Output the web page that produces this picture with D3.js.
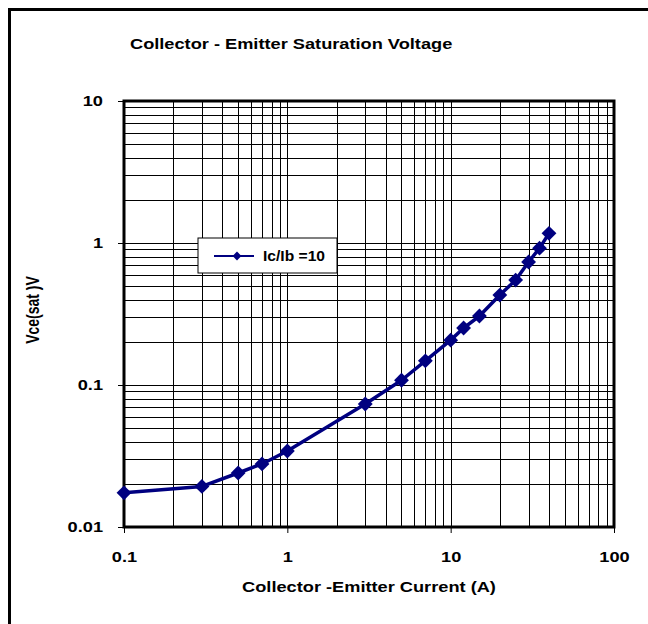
<!DOCTYPE html>
<html>
<head>
<meta charset="utf-8">
<script src="https://cdn.jsdelivr.net/npm/d3@7"></script>
<style>
  body { margin: 0; background: #fff; }
  text { font-family: "Liberation Sans", Arial, sans-serif; font-weight: bold; fill: #000; }
</style>
</head>
<body>
<script>
// Ic (A) and Vce(sat) (V)
const current = [0.1, 0.3, 0.5, 0.7, 1, 3, 5, 7, 10, 12, 15, 20, 25, 30, 35, 40];
const vceSat = [0.0174, 0.0193, 0.024, 0.0278, 0.0343, 0.0735, 0.108, 0.148, 0.207, 0.252, 0.306, 0.43, 0.548, 0.735, 0.92, 1.17];
const xTicks = [0.1, 1, 10, 100];
const yTicks = [0.01, 0.1, 1, 10];
const seriesName = "Ic/Ib =10";

const width = 648, height = 624;
const margin = {top: 101, right: 34, bottom: 97, left: 124};
const color = "#000080";
const stretch = 1.3; // the original text is drawn wide

const svg = d3.select("body").append("svg")
    .attr("width", width)
    .attr("height", height);

// widen every label the way the source picture does
const widen = sel => sel.each(function() {
  this.setAttribute("textLength", this.getComputedTextLength() * stretch);
  this.setAttribute("lengthAdjust", "spacingAndGlyphs");
});

// outer frame (runs off the right and bottom edges)
svg.append("rect")
    .attr("x", 9.5).attr("y", 9.5)
    .attr("width", width + 20).attr("height", height + 20)
    .attr("fill", "none").attr("stroke", "#000").attr("stroke-width", 3);

const x = d3.scaleLog()
    .domain([0.1, 100])
    .range([margin.left, width - margin.right]);

const y = d3.scaleLog()
    .domain([0.01, 10])
    .range([height - margin.bottom, margin.top]);

// minor + major grid
const minor = (lo, hi) => {
  const out = [];
  for (let p = Math.log10(lo); p < Math.log10(hi); p++)
    for (let k = 1; k < 10; k++) out.push(k * Math.pow(10, p));
  return out.slice(1);
};

const grid = svg.append("g").attr("stroke", "#000").attr("stroke-width", 1).attr("shape-rendering", "crispEdges");
grid.selectAll(".gx")
  .data(minor(0.1, 100))
  .join("line")
    .attr("x1", d => Math.round(x(d)) + 0.5).attr("x2", d => Math.round(x(d)) + 0.5)
    .attr("y1", y(0.01)).attr("y2", y(10));
grid.selectAll(".gy")
  .data(minor(0.01, 10))
  .join("line")
    .attr("y1", d => Math.round(y(d)) + 0.5).attr("y2", d => Math.round(y(d)) + 0.5)
    .attr("x1", x(0.1)).attr("x2", x(100));

// plot border
svg.append("rect")
    .attr("x", x(0.1)).attr("y", y(10))
    .attr("width", x(100) - x(0.1)).attr("height", y(0.01) - y(10))
    .attr("fill", "none").attr("stroke", "#000").attr("stroke-width", 3);

// axes (ticks + labels only)
svg.append("g")
    .attr("transform", `translate(0,${y(0.01)})`)
    .call(d3.axisBottom(x).tickValues(xTicks).tickFormat(d3.format("~g")).tickSize(6).tickPadding(19))
    .call(g => g.select(".domain").remove())
    .call(g => g.selectAll("text").attr("font-size", 14).attr("font-family", null).call(widen));

svg.append("g")
    .attr("transform", `translate(${x(0.1)},0)`)
    .call(d3.axisLeft(y).tickValues(yTicks).tickFormat(d3.format("~g")).tickSize(6).tickPadding(15))
    .call(g => g.select(".domain").remove())
    .call(g => g.selectAll("text").attr("font-size", 14).attr("font-family", null).call(widen));

// series
svg.append("path")
    .datum(current.map((c, i) => [c, vceSat[i]]))
    .attr("fill", "none")
    .attr("stroke", color)
    .attr("stroke-width", 3.5)
    .attr("stroke-linejoin", "round")
    .attr("d", d3.line().x(d => x(d[0])).y(d => y(d[1])));

const diamond = d3.symbol().type(d3.symbolDiamond2).size(140);
svg.selectAll(".pt")
  .data(current.map((c, i) => [c, vceSat[i]]))
  .join("path")
    .attr("transform", d => `translate(${x(d[0])},${y(d[1])})`)
    .attr("d", diamond)
    .attr("fill", color);

// legend
const lg = svg.append("g").attr("transform", "translate(198,238)");
lg.append("rect")
    .attr("width", 139).attr("height", 35)
    .attr("fill", "#fff").attr("stroke", "#000").attr("stroke-width", 1);
lg.append("line")
    .attr("x1", 16).attr("x2", 56).attr("y1", 18).attr("y2", 18)
    .attr("stroke", color).attr("stroke-width", 2);
lg.append("path")
    .attr("transform", "translate(39,18)")
    .attr("d", d3.symbol().type(d3.symbolDiamond2).size(50))
    .attr("fill", color);
lg.append("text")
    .attr("x", 65).attr("y", 23)
    .attr("font-size", 14)
    .attr("textLength", 62)
    .attr("lengthAdjust", "spacingAndGlyphs")
    .text(seriesName);

// titles
svg.append("text")
    .attr("x", 130).attr("y", 49)
    .attr("font-size", 14)
    .text("Collector - Emitter Saturation Voltage")
    .call(widen);

svg.append("text")
    .attr("x", (x(0.1) + x(100)) / 2).attr("y", 592)
    .attr("text-anchor", "middle")
    .attr("font-size", 14)
    .text("Collector -Emitter Current (A)")
    .call(widen);

// vertical title: the wide drawing makes its glyphs thicker, not longer
svg.append("text")
    .attr("transform", `translate(39,310) scale(${stretch},1) rotate(-90)`)
    .attr("text-anchor", "middle")
    .attr("font-size", 14)
    .text("Vce(sat )V");
</script>
</body>
</html>
